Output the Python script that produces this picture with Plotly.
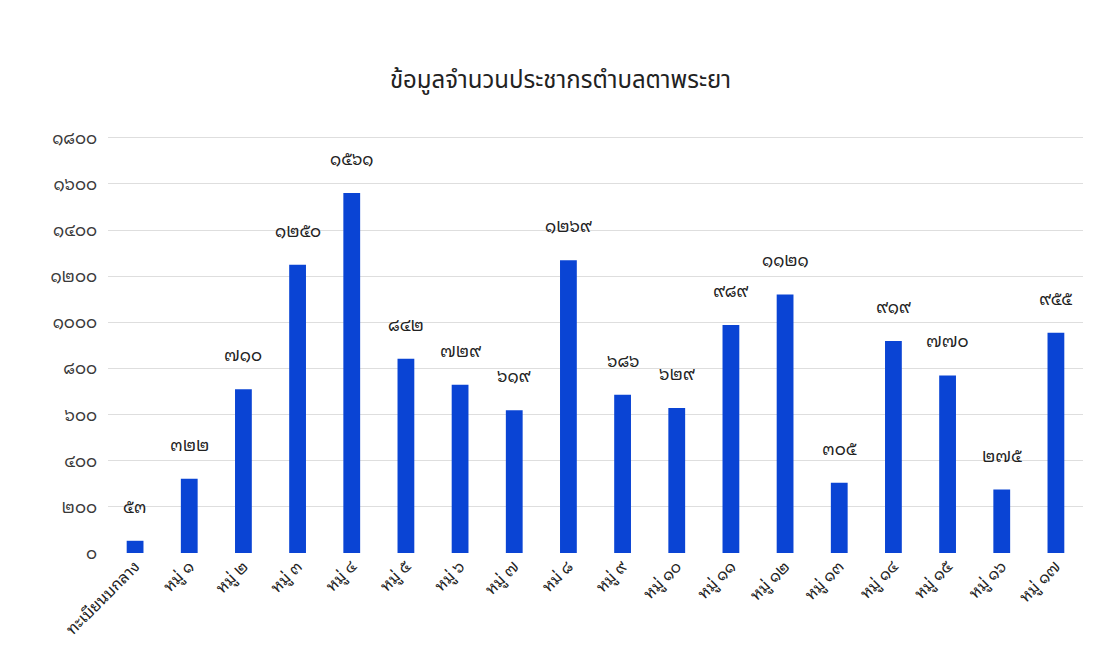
import plotly.graph_objects as go

categories = ["ทะเบียนบกลาง", "หมู่ ๑", "หมู่ ๒", "หมู่ ๓", "หมู่ ๔", "หมู่ ๕", "หมู่ ๖",
              "หมู่ ๗", "หม่ ๘", "หมู่ ๙", "หมู่ ๑๐", "หมู่ ๑๑", "หมู่ ๑๒", "หมู่ ๑๓",
              "หมู่ ๑๔", "หมู่ ๑๕", "หมู่ ๑๖", "หมู่ ๑๗"]
population = [53, 322, 710, 1250, 1561, 842, 729, 619, 1269, 686, 629, 989, 1121,
              305, 919, 770, 275, 955]
tick_values = [0, 200, 400, 600, 800, 1000, 1200, 1400, 1600, 1800]

THAI_DIGITS = str.maketrans("0123456789", "๐๑๒๓๔๕๖๗๘๙")


def thai(n):
    return str(n).translate(THAI_DIGITS)


FONT = "Noto Sans Thai Looped, Noto Serif Thai, Noto Sans Thai, Noto Sans, sans-serif"
TITLE_FONT = "Noto Sans Thai, Noto Sans, sans-serif"

fig = go.Figure()
fig.add_trace(go.Bar(
    x=categories,
    y=population,
    marker=dict(color="#0a44d4", line=dict(width=0)),
    width=0.31,
    hoverinfo="x+y",
))

for c, v in zip(categories, population):
    fig.add_annotation(x=c, y=v, text=thai(v), showarrow=False, yanchor="bottom",
                       yshift=20, font=dict(family=FONT, size=17, color="#222222"))

fig.update_layout(
    width=1105, height=672,
    paper_bgcolor="white", plot_bgcolor="white",
    margin=dict(l=100, r=30, t=128, b=127),
    title=dict(text="ข้อมูลจำนวนประชากรตำบลตาพระยา", x=0.5, xanchor="center",
               y=0.893, yanchor="middle",
               font=dict(family=TITLE_FONT, size=24, color="#222222")),
    showlegend=False,
    bargap=0.69,
)
fig.update_yaxes(range=[0, 1808], tickvals=tick_values,
                 ticktext=[thai(t) for t in tick_values],
                 showgrid=True, gridcolor="#dedede", gridwidth=1, zeroline=False,
                 showline=False, ticks="", ticklabelstandoff=10,
                 tickfont=dict(family=FONT, size=17, color="#3a3a3a"))
fig.update_xaxes(tickangle=-45, showline=False, showgrid=False, ticks="",
                 tickfont=dict(family=FONT, size=16, color="#222222"))

fig.write_html("out.html")
